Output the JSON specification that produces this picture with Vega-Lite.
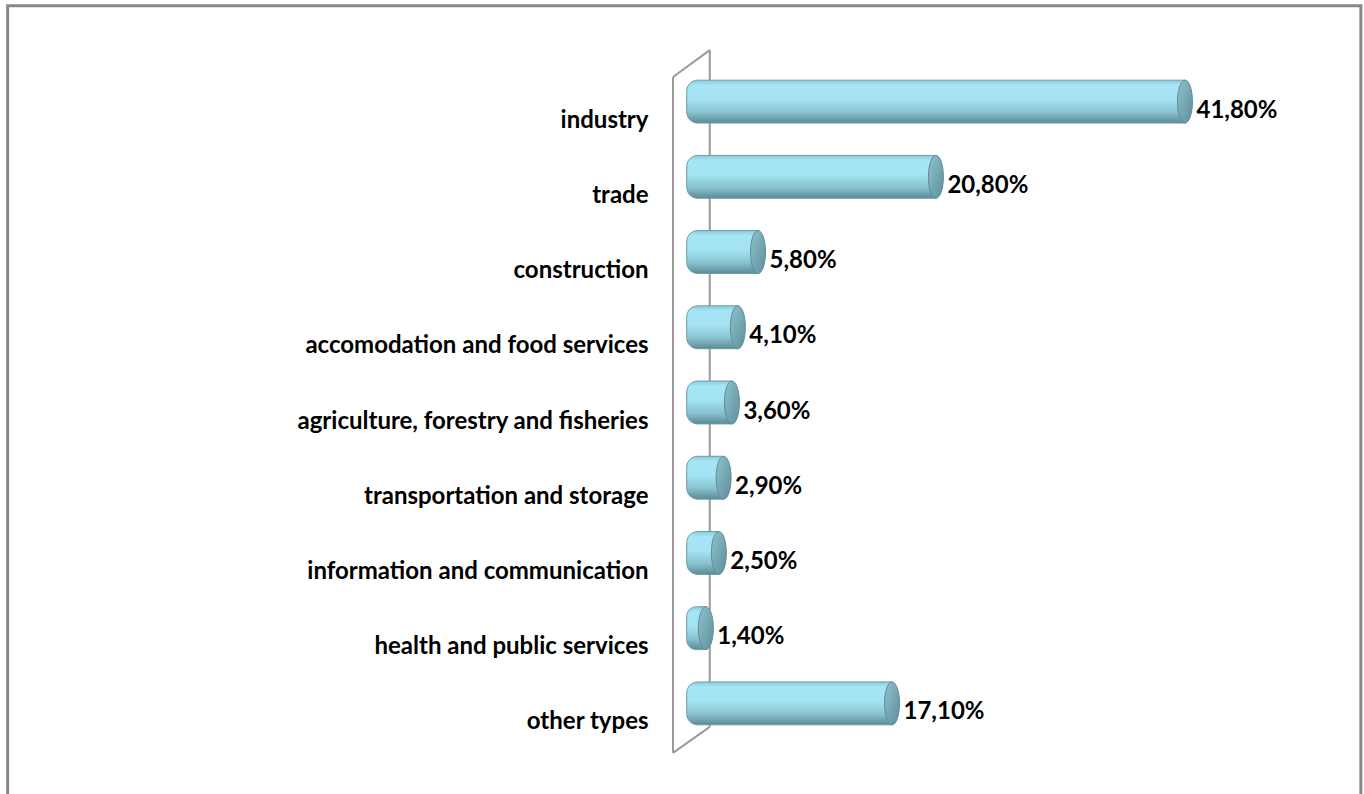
{
  "$schema": "https://vega.github.io/schema/vega-lite/v6.json",
  "autosize": {"type": "none"},
  "width": 593,
  "height": 677,
  "padding": {"left": 673, "top": 64, "right": 98, "bottom": 53},
  "background": "white",
  "config": {"view": {"stroke": null}, "font": "Lato"},
  "datasets": {
    "sectors": [
      {"sector": "industry", "value": 41.8, "pct": "41,80%"},
      {"sector": "trade", "value": 20.8, "pct": "20,80%"},
      {"sector": "construction", "value": 5.8, "pct": "5,80%"},
      {"sector": "accomodation and food services", "value": 4.1, "pct": "4,10%"},
      {"sector": "agriculture, forestry and fisheries", "value": 3.6, "pct": "3,60%"},
      {"sector": "transportation and storage", "value": 2.9, "pct": "2,90%"},
      {"sector": "information and communication", "value": 2.5, "pct": "2,50%"},
      {"sector": "health and public services", "value": 1.4, "pct": "1,40%"},
      {"sector": "other types", "value": 17.1, "pct": "17,10%"}
    ],
    "wall": [
      {"wx": -2, "wy": 0.9807, "wx2": -2, "wy2": -0.0175},
      {"wx": 1.1, "wy": 1.0205, "wx2": 1.1, "wy2": 0.0209},
      {"wx": -2, "wy": 0.9807, "wx2": 1.1, "wy2": 1.0205},
      {"wx": -2, "wy": -0.0175, "wx2": 1.1, "wy2": 0.0209}
    ],
    "frame": [
      {"fx": -58.1, "fx2": 56.0, "fy": 1.086, "fy2": -0.12}
    ]
  },
  "layer": [
    {
      "data": {"name": "frame"},
      "mark": {"type": "rect", "fillOpacity": 0, "stroke": "#888888", "strokeWidth": 3, "clip": false},
      "encoding": {
        "x": {"field": "fx", "type": "quantitative", "scale": {"domain": [-2, 48], "nice": false, "zero": false}, "axis": null},
        "x2": {"field": "fx2"},
        "y": {"field": "fy", "type": "quantitative", "scale": {"domain": [0, 1], "nice": false, "zero": false}, "axis": null},
        "y2": {"field": "fy2"}
      }
    },
    {
      "data": {"name": "wall"},
      "mark": {"type": "rule", "stroke": "#9a9a9a", "strokeWidth": 2, "clip": false},
      "encoding": {
        "x": {"field": "wx", "type": "quantitative", "scale": {"domain": [-2, 48], "nice": false, "zero": false}, "axis": null},
        "x2": {"field": "wx2"},
        "y": {"field": "wy", "type": "quantitative", "scale": {"domain": [0, 1], "nice": false, "zero": false}, "axis": null},
        "y2": {"field": "wy2"}
      }
    },
    {
      "data": {"name": "sectors"},
      "encoding": {
        "y": {
          "field": "sector", "type": "nominal", "sort": null,
          "scale": {"paddingInner": 0.43, "paddingOuter": 0.215},
          "axis": {"title": null, "ticks": false, "domain": false, "labelPadding": 25, "labelFontSize": 24, "labelFontWeight": "bold", "labelColor": "#000000", "labelFont": "Lato", "labelOffset": 19, "labelLimit": 600}
        },
        "x": {"field": "value", "type": "quantitative", "scale": {"domain": [-2, 48], "nice": false, "zero": false}, "axis": null}
      },
      "layer": [
        {
          "mark": {
            "type": "bar", "xOffset": -7.5, "x2Offset": -10,
            "cornerRadiusTopLeft": 11, "cornerRadiusBottomLeft": 11,
            "color": {"gradient": "linear", "x1": 0, "y1": 0, "x2": 0, "y2": 1,
              "stops": [
                {"offset": 0, "color": "#8ccbdb"},
                {"offset": 0.12, "color": "#a6e5f5"},
                {"offset": 0.45, "color": "#a3e3f3"},
                {"offset": 0.75, "color": "#88c2ce"},
                {"offset": 1, "color": "#5b8b95"}
              ]},
            "stroke": "#6e9ca6", "strokeWidth": 1
          },
          "encoding": {"x2": {"datum": 0}}
        },
        {
          "mark": {
            "type": "point", "filled": true,
            "shape": "M0,-1A0.349,1,0,1,1,0,1A0.349,1,0,1,1,0,-1Z",
            "size": 1849, "xOffset": -7.5, "opacity": 1,
            "color": {"gradient": "linear", "x1": 0, "y1": 0, "x2": 1, "y2": 1,
              "stops": [
                {"offset": 0, "color": "#8fc3cf"},
                {"offset": 1, "color": "#5e8e99"}
              ]},
            "stroke": "#5f8d98", "strokeWidth": 1
          }
        },
        {
          "mark": {"type": "text", "align": "left", "baseline": "middle", "dx": 4, "dy": 9, "fontSize": 24, "fontWeight": "bold", "font": "Lato", "color": "#000000"},
          "encoding": {"text": {"field": "pct"}}
        }
      ]
    }
  ],
  "resolve": {"scale": {"y": "independent"}}
}
